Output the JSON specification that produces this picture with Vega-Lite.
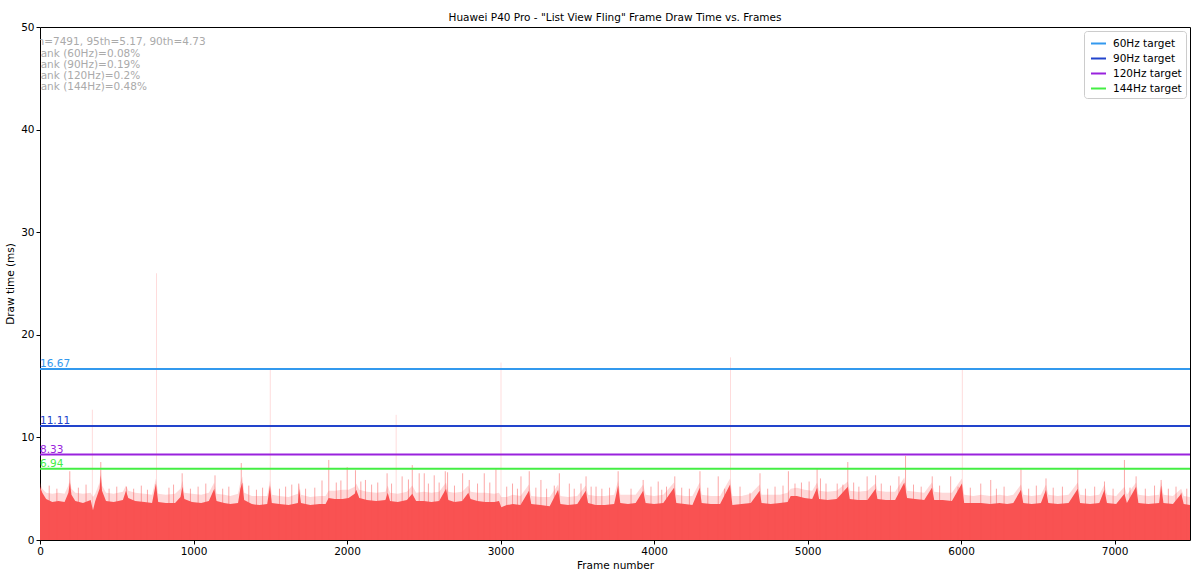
{
  "$schema": "https://vega.github.io/schema/vega-lite/v6.json",
  "autosize": {"type": "none"},
  "width": 1150,
  "height": 513,
  "padding": {"left": 40, "top": 27, "right": 10, "bottom": 37},
  "background": "white",
  "title": {"text": "Huawei P40 Pro - \"List View Fling\" Frame Draw Time vs. Frames", "fontSize": 10.5, "fontWeight": "normal", "font": "DejaVu Sans", "color": "black", "offset": -1},
  "config": {
    "font": "DejaVu Sans",
    "view": {"stroke": "black", "strokeWidth": 1},
    "axis": {"domain": false, "grid": false, "tickColor": "black", "tickSize": 4, "labelFontSize": 10.5, "labelColor": "black", "labelFont": "DejaVu Sans", "titleFont": "DejaVu Sans", "titleFontSize": 10.5, "titleFontWeight": "normal", "titleColor": "black", "labelPadding": 2, "labelFlush": false}
  },
  "datasets": {
    "frames": [
      {"frame": 0, "ms": 5.2, "upper": 5.6}, {"frame": 15, "ms": 4.6, "upper": 5.0}, {"frame": 40, "ms": 4.0, "upper": 4.6}, {"frame": 80, "ms": 3.7, "upper": 4.5}, {"frame": 120, "ms": 3.8, "upper": 4.6}, {"frame": 160, "ms": 3.7, "upper": 4.5}, {"frame": 185, "ms": 4.6, "upper": 5.3}, {"frame": 195, "ms": 5.6, "upper": 6.0}, {"frame": 205, "ms": 4.4, "upper": 5.0}, {"frame": 230, "ms": 3.8, "upper": 4.6}, {"frame": 280, "ms": 3.6, "upper": 4.5}, {"frame": 330, "ms": 3.9, "upper": 4.6}, {"frame": 345, "ms": 2.9, "upper": 4.2}, {"frame": 360, "ms": 3.8, "upper": 4.5}, {"frame": 388, "ms": 5.0, "upper": 5.6}, {"frame": 396, "ms": 6.3, "upper": 6.8}, {"frame": 404, "ms": 4.8, "upper": 5.3}, {"frame": 430, "ms": 3.8, "upper": 4.6}, {"frame": 480, "ms": 3.7, "upper": 4.5}, {"frame": 540, "ms": 3.9, "upper": 4.7}, {"frame": 560, "ms": 4.8, "upper": 5.3}, {"frame": 575, "ms": 4.1, "upper": 4.8}, {"frame": 620, "ms": 3.8, "upper": 4.6}, {"frame": 680, "ms": 3.7, "upper": 4.5}, {"frame": 730, "ms": 3.6, "upper": 4.4}, {"frame": 755, "ms": 5.5, "upper": 6.0}, {"frame": 770, "ms": 3.7, "upper": 4.5}, {"frame": 820, "ms": 3.6, "upper": 4.4}, {"frame": 880, "ms": 3.6, "upper": 4.5}, {"frame": 915, "ms": 4.2, "upper": 5.0}, {"frame": 928, "ms": 5.2, "upper": 5.8}, {"frame": 940, "ms": 4.0, "upper": 4.6}, {"frame": 990, "ms": 3.7, "upper": 4.5}, {"frame": 1050, "ms": 3.6, "upper": 4.4}, {"frame": 1100, "ms": 3.8, "upper": 4.6}, {"frame": 1135, "ms": 5.0, "upper": 5.6}, {"frame": 1150, "ms": 3.8, "upper": 4.5}, {"frame": 1200, "ms": 3.6, "upper": 4.4},
      {"frame": 1240, "ms": 3.5, "upper": 4.3}, {"frame": 1290, "ms": 3.6, "upper": 4.5}, {"frame": 1305, "ms": 5.0, "upper": 5.6}, {"frame": 1318, "ms": 5.6, "upper": 6.2}, {"frame": 1330, "ms": 3.9, "upper": 4.6}, {"frame": 1380, "ms": 3.5, "upper": 4.3}, {"frame": 1430, "ms": 3.4, "upper": 4.3}, {"frame": 1480, "ms": 3.5, "upper": 4.3}, {"frame": 1498, "ms": 5.3, "upper": 5.8}, {"frame": 1510, "ms": 3.6, "upper": 4.4}, {"frame": 1560, "ms": 3.5, "upper": 4.3}, {"frame": 1620, "ms": 3.4, "upper": 4.2}, {"frame": 1680, "ms": 3.6, "upper": 4.5}, {"frame": 1688, "ms": 5.0, "upper": 5.5}, {"frame": 1700, "ms": 3.6, "upper": 4.4}, {"frame": 1760, "ms": 3.4, "upper": 4.2}, {"frame": 1820, "ms": 3.5, "upper": 4.3}, {"frame": 1860, "ms": 3.5, "upper": 4.3}, {"frame": 1880, "ms": 4.1, "upper": 4.8}, {"frame": 1920, "ms": 4.0, "upper": 4.8}, {"frame": 1970, "ms": 4.0, "upper": 4.9}, {"frame": 2010, "ms": 4.1, "upper": 4.9}, {"frame": 2050, "ms": 4.5, "upper": 5.2}, {"frame": 2060, "ms": 4.9, "upper": 5.5}, {"frame": 2080, "ms": 4.1, "upper": 4.9}, {"frame": 2130, "ms": 3.9, "upper": 4.7}, {"frame": 2190, "ms": 3.8, "upper": 4.6}, {"frame": 2250, "ms": 3.9, "upper": 4.7}, {"frame": 2265, "ms": 4.6, "upper": 5.3}, {"frame": 2280, "ms": 3.8, "upper": 4.6}, {"frame": 2330, "ms": 3.7, "upper": 4.5}, {"frame": 2390, "ms": 3.9, "upper": 4.7}, {"frame": 2425, "ms": 4.5, "upper": 5.3}, {"frame": 2450, "ms": 3.8, "upper": 4.6}, {"frame": 2500, "ms": 3.8, "upper": 4.7},
      {"frame": 2550, "ms": 3.7, "upper": 4.6}, {"frame": 2600, "ms": 3.8, "upper": 4.7}, {"frame": 2645, "ms": 5.0, "upper": 5.6}, {"frame": 2660, "ms": 3.9, "upper": 4.7}, {"frame": 2700, "ms": 3.7, "upper": 4.6}, {"frame": 2750, "ms": 3.8, "upper": 4.7}, {"frame": 2790, "ms": 4.6, "upper": 5.3}, {"frame": 2805, "ms": 4.0, "upper": 4.7}, {"frame": 2850, "ms": 3.8, "upper": 4.6}, {"frame": 2900, "ms": 3.7, "upper": 4.6}, {"frame": 2960, "ms": 3.7, "upper": 4.5}, {"frame": 2990, "ms": 3.8, "upper": 4.6}, {"frame": 3005, "ms": 3.2, "upper": 4.2}, {"frame": 3040, "ms": 3.4, "upper": 4.2}, {"frame": 3080, "ms": 3.5, "upper": 4.4}, {"frame": 3130, "ms": 3.4, "upper": 4.3}, {"frame": 3185, "ms": 4.8, "upper": 5.4}, {"frame": 3200, "ms": 3.5, "upper": 4.3}, {"frame": 3260, "ms": 3.4, "upper": 4.2}, {"frame": 3320, "ms": 3.3, "upper": 4.2}, {"frame": 3375, "ms": 4.9, "upper": 5.4}, {"frame": 3390, "ms": 3.5, "upper": 4.3}, {"frame": 3440, "ms": 3.4, "upper": 4.2}, {"frame": 3500, "ms": 3.5, "upper": 4.3}, {"frame": 3555, "ms": 4.8, "upper": 5.3}, {"frame": 3570, "ms": 3.6, "upper": 4.4}, {"frame": 3620, "ms": 3.4, "upper": 4.3}, {"frame": 3680, "ms": 3.4, "upper": 4.3}, {"frame": 3740, "ms": 3.5, "upper": 4.4},
      {"frame": 3766, "ms": 5.3, "upper": 5.8}, {"frame": 3780, "ms": 3.6, "upper": 4.4}, {"frame": 3830, "ms": 3.5, "upper": 4.4}, {"frame": 3880, "ms": 3.6, "upper": 4.4}, {"frame": 3929, "ms": 4.8, "upper": 5.4}, {"frame": 3945, "ms": 3.6, "upper": 4.4}, {"frame": 4000, "ms": 3.5, "upper": 4.3}, {"frame": 4060, "ms": 3.6, "upper": 4.4}, {"frame": 4130, "ms": 5.1, "upper": 5.6}, {"frame": 4145, "ms": 3.6, "upper": 4.4}, {"frame": 4200, "ms": 3.5, "upper": 4.3}, {"frame": 4250, "ms": 3.4, "upper": 4.3}, {"frame": 4297, "ms": 5.1, "upper": 5.6}, {"frame": 4310, "ms": 3.6, "upper": 4.4}, {"frame": 4370, "ms": 3.5, "upper": 4.3}, {"frame": 4430, "ms": 3.5, "upper": 4.3}, {"frame": 4495, "ms": 5.4, "upper": 6.0}, {"frame": 4510, "ms": 3.4, "upper": 4.3}, {"frame": 4570, "ms": 3.5, "upper": 4.3}, {"frame": 4630, "ms": 3.6, "upper": 4.5}, {"frame": 4688, "ms": 4.8, "upper": 5.4}, {"frame": 4700, "ms": 3.6, "upper": 4.4}, {"frame": 4760, "ms": 3.5, "upper": 4.4}, {"frame": 4820, "ms": 3.6, "upper": 4.4}, {"frame": 4870, "ms": 3.7, "upper": 4.6}, {"frame": 4890, "ms": 4.3, "upper": 5.0}, {"frame": 4930, "ms": 4.3, "upper": 5.1}, {"frame": 4980, "ms": 4.1, "upper": 4.9},
      {"frame": 5030, "ms": 4.0, "upper": 4.8}, {"frame": 5062, "ms": 5.1, "upper": 5.6}, {"frame": 5075, "ms": 4.0, "upper": 4.8}, {"frame": 5130, "ms": 3.9, "upper": 4.7}, {"frame": 5190, "ms": 4.0, "upper": 4.8}, {"frame": 5262, "ms": 5.2, "upper": 5.7}, {"frame": 5275, "ms": 4.0, "upper": 4.8}, {"frame": 5330, "ms": 3.9, "upper": 4.7}, {"frame": 5390, "ms": 3.9, "upper": 4.8}, {"frame": 5443, "ms": 5.0, "upper": 5.5}, {"frame": 5455, "ms": 4.0, "upper": 4.8}, {"frame": 5510, "ms": 3.9, "upper": 4.7}, {"frame": 5570, "ms": 3.9, "upper": 4.7}, {"frame": 5630, "ms": 5.6, "upper": 6.1}, {"frame": 5648, "ms": 4.1, "upper": 4.8}, {"frame": 5700, "ms": 4.0, "upper": 4.7}, {"frame": 5760, "ms": 3.9, "upper": 4.6}, {"frame": 5810, "ms": 5.1, "upper": 5.6}, {"frame": 5825, "ms": 3.9, "upper": 4.7}, {"frame": 5880, "ms": 3.9, "upper": 4.6}, {"frame": 5940, "ms": 3.8, "upper": 4.6}, {"frame": 6005, "ms": 5.5, "upper": 6.0}, {"frame": 6020, "ms": 3.6, "upper": 4.4}, {"frame": 6080, "ms": 3.6, "upper": 4.3}, {"frame": 6130, "ms": 3.6, "upper": 4.4}, {"frame": 6190, "ms": 3.5, "upper": 4.3}, {"frame": 6250, "ms": 3.6, "upper": 4.4},
      {"frame": 6300, "ms": 3.5, "upper": 4.3}, {"frame": 6340, "ms": 3.6, "upper": 4.4}, {"frame": 6390, "ms": 4.9, "upper": 5.4}, {"frame": 6405, "ms": 3.6, "upper": 4.4}, {"frame": 6460, "ms": 3.5, "upper": 4.3}, {"frame": 6520, "ms": 3.6, "upper": 4.4}, {"frame": 6553, "ms": 4.9, "upper": 5.4}, {"frame": 6568, "ms": 3.6, "upper": 4.4}, {"frame": 6630, "ms": 3.5, "upper": 4.3}, {"frame": 6700, "ms": 3.6, "upper": 4.4}, {"frame": 6760, "ms": 5.0, "upper": 5.6}, {"frame": 6775, "ms": 3.6, "upper": 4.4}, {"frame": 6840, "ms": 3.5, "upper": 4.3}, {"frame": 6900, "ms": 3.6, "upper": 4.4}, {"frame": 6934, "ms": 4.9, "upper": 5.4}, {"frame": 6950, "ms": 3.6, "upper": 4.4}, {"frame": 7010, "ms": 3.5, "upper": 4.3}, {"frame": 7064, "ms": 4.5, "upper": 5.2}, {"frame": 7080, "ms": 3.6, "upper": 4.4}, {"frame": 7140, "ms": 5.2, "upper": 5.6}, {"frame": 7155, "ms": 3.6, "upper": 4.4}, {"frame": 7220, "ms": 3.5, "upper": 4.3}, {"frame": 7290, "ms": 3.6, "upper": 4.4}, {"frame": 7303, "ms": 5.3, "upper": 5.7}, {"frame": 7318, "ms": 3.6, "upper": 4.4}, {"frame": 7380, "ms": 3.5, "upper": 4.3}, {"frame": 7434, "ms": 4.5, "upper": 5.0}, {"frame": 7450, "ms": 3.5, "upper": 4.3}, {"frame": 7491, "ms": 3.4, "upper": 4.2}
    ],
    "peaks": [
      {"frame": 194, "ms": 6.7}, {"frame": 341, "ms": 12.7}, {"frame": 396, "ms": 7.6}, {"frame": 563, "ms": 5.2}, {"frame": 759, "ms": 26.0}, {"frame": 926, "ms": 6.5}, {"frame": 1140, "ms": 6.3}, {"frame": 1311, "ms": 7.5}, {"frame": 1500, "ms": 16.7}, {"frame": 1685, "ms": 5.5}, {"frame": 1837, "ms": 5.8}, {"frame": 1881, "ms": 7.8}, {"frame": 2001, "ms": 7.1}, {"frame": 2055, "ms": 6.8}, {"frame": 2120, "ms": 5.85}, {"frame": 2261, "ms": 6.5}, {"frame": 2320, "ms": 12.2}, {"frame": 2359, "ms": 6.2}, {"frame": 2425, "ms": 7.3}, {"frame": 2470, "ms": 6.5}, {"frame": 2503, "ms": 6.5}, {"frame": 2568, "ms": 6.3}, {"frame": 2640, "ms": 6.7}, {"frame": 2655, "ms": 6.6}, {"frame": 2753, "ms": 6.5}, {"frame": 2796, "ms": 5.85}, {"frame": 2894, "ms": 6.5}, {"frame": 2970, "ms": 6.9}, {"frame": 3003, "ms": 17.3}, {"frame": 3078, "ms": 5.5}, {"frame": 3133, "ms": 6.2}, {"frame": 3187, "ms": 6.7}, {"frame": 3263, "ms": 5.85}, {"frame": 3383, "ms": 6.5}, {"frame": 3448, "ms": 5.5}, {"frame": 3524, "ms": 5.5}, {"frame": 3557, "ms": 6.2}, {"frame": 3622, "ms": 5.2}, {"frame": 3766, "ms": 6.7}, {"frame": 3929, "ms": 5.85}, {"frame": 4027, "ms": 5.7}, {"frame": 4081, "ms": 5.2}, {"frame": 4135, "ms": 6.2}, {"frame": 4299, "ms": 6.7}, {"frame": 4418, "ms": 6.2}, {"frame": 4498, "ms": 17.8}, {"frame": 4625, "ms": 4.6}, {"frame": 4690, "ms": 6.5}, {"frame": 4788, "ms": 5.2}, {"frame": 4875, "ms": 6.7}, {"frame": 4918, "ms": 5.5}, {"frame": 5062, "ms": 7.0}, {"frame": 5084, "ms": 6.0}, {"frame": 5193, "ms": 5.5}, {"frame": 5262, "ms": 7.6}, {"frame": 5334, "ms": 5.2}, {"frame": 5388, "ms": 6.2}, {"frame": 5443, "ms": 6.3}, {"frame": 5595, "ms": 6.2}, {"frame": 5638, "ms": 8.2}, {"frame": 5812, "ms": 6.2}, {"frame": 5932, "ms": 6.2}, {"frame": 6008, "ms": 16.6}, {"frame": 6128, "ms": 5.5}, {"frame": 6193, "ms": 5.85}, {"frame": 6390, "ms": 7.0}, {"frame": 6553, "ms": 6.0}, {"frame": 6760, "ms": 7.0}, {"frame": 6934, "ms": 5.7}, {"frame": 7064, "ms": 7.8}, {"frame": 7140, "ms": 6.2}, {"frame": 7303, "ms": 5.85}, {"frame": 7434, "ms": 4.6},
      {"frame": 60, "ms": 5.3}, {"frame": 110, "ms": 5.0}, {"frame": 250, "ms": 5.1}, {"frame": 300, "ms": 5.4}, {"frame": 450, "ms": 5.0}, {"frame": 500, "ms": 5.2}, {"frame": 610, "ms": 5.0}, {"frame": 660, "ms": 5.3}, {"frame": 700, "ms": 4.9}, {"frame": 840, "ms": 5.1}, {"frame": 870, "ms": 5.4}, {"frame": 980, "ms": 5.0}, {"frame": 1030, "ms": 5.2}, {"frame": 1080, "ms": 5.5}, {"frame": 1190, "ms": 5.0}, {"frame": 1230, "ms": 5.2}, {"frame": 1360, "ms": 5.3}, {"frame": 1410, "ms": 4.9}, {"frame": 1450, "ms": 5.1}, {"frame": 1560, "ms": 5.0}, {"frame": 1600, "ms": 5.2}, {"frame": 1640, "ms": 5.4}, {"frame": 1730, "ms": 5.0}, {"frame": 1790, "ms": 5.1}, {"frame": 1930, "ms": 5.6}, {"frame": 1960, "ms": 5.8}, {"frame": 2090, "ms": 5.7}, {"frame": 2160, "ms": 5.4}, {"frame": 2200, "ms": 5.6}, {"frame": 2290, "ms": 5.5}, {"frame": 2400, "ms": 5.9}, {"frame": 2530, "ms": 5.5}, {"frame": 2600, "ms": 5.6}, {"frame": 2700, "ms": 5.3}, {"frame": 2850, "ms": 5.5}, {"frame": 2930, "ms": 5.6}, {"frame": 3040, "ms": 5.2}, {"frame": 3110, "ms": 5.0}, {"frame": 3230, "ms": 5.1}, {"frame": 3300, "ms": 5.0}, {"frame": 3350, "ms": 5.3}, {"frame": 3480, "ms": 5.0}, {"frame": 3590, "ms": 5.2}, {"frame": 3660, "ms": 5.0}, {"frame": 3710, "ms": 5.1}, {"frame": 3850, "ms": 5.0}, {"frame": 3980, "ms": 5.2}, {"frame": 4050, "ms": 4.9}, {"frame": 4180, "ms": 5.1}, {"frame": 4230, "ms": 5.0}, {"frame": 4350, "ms": 5.1}, {"frame": 4460, "ms": 5.0}, {"frame": 4560, "ms": 5.2}, {"frame": 4740, "ms": 5.0}, {"frame": 4840, "ms": 5.3}, {"frame": 4960, "ms": 5.6}, {"frame": 5010, "ms": 5.7}, {"frame": 5120, "ms": 5.5}, {"frame": 5230, "ms": 5.4}, {"frame": 5300, "ms": 5.6}, {"frame": 5480, "ms": 5.5}, {"frame": 5540, "ms": 5.3}, {"frame": 5690, "ms": 5.4}, {"frame": 5740, "ms": 5.2}, {"frame": 5860, "ms": 5.3}, {"frame": 5980, "ms": 5.2}, {"frame": 6060, "ms": 5.1}, {"frame": 6230, "ms": 5.0}, {"frame": 6280, "ms": 5.2}, {"frame": 6440, "ms": 5.0}, {"frame": 6490, "ms": 5.3}, {"frame": 6600, "ms": 5.1}, {"frame": 6660, "ms": 5.2}, {"frame": 6810, "ms": 5.0}, {"frame": 6870, "ms": 5.2}, {"frame": 6990, "ms": 5.0}, {"frame": 7100, "ms": 5.1}, {"frame": 7200, "ms": 5.0}, {"frame": 7260, "ms": 5.3}, {"frame": 7350, "ms": 5.0}, {"frame": 7400, "ms": 5.2}, {"frame": 7470, "ms": 5.0}
    ],
    "targets": [
      {"target": "60Hz target", "ms": 16.67, "label": "16.67"},
      {"target": "90Hz target", "ms": 11.11, "label": "11.11"},
      {"target": "120Hz target", "ms": 8.33, "label": "8.33"},
      {"target": "144Hz target", "ms": 6.94, "label": "6.94"}
    ]
  },
  "layer": [
    {
      "data": {"name": "frames"},
      "mark": {"type": "area", "color": "#f95252", "opacity": 0.22, "interpolate": "linear", "clip": true},
      "encoding": {
        "x": {"field": "frame", "type": "quantitative", "scale": {"domain": [0, 7491], "nice": false, "zero": false}, "axis": {"values": [0, 1000, 2000, 3000, 4000, 5000, 6000, 7000], "title": "Frame number", "titlePadding": 4, "format": "d"}},
        "y": {"field": "upper", "type": "quantitative", "scale": {"domain": [0, 50], "nice": false}, "axis": {"values": [0, 10, 20, 30, 40, 50], "title": "Draw time (ms)", "titlePadding": 5}}
      }
    },
    {
      "data": {"name": "frames"},
      "mark": {"type": "area", "color": "#f95252", "interpolate": "linear", "clip": true},
      "encoding": {
        "x": {"field": "frame", "type": "quantitative"},
        "y": {"field": "ms", "type": "quantitative"}
      }
    },
    {
      "data": {"name": "peaks"},
      "mark": {"type": "rule", "color": "#f95252", "strokeWidth": 1, "clip": true},
      "encoding": {
        "x": {"field": "frame", "type": "quantitative"},
        "y": {"field": "ms", "type": "quantitative"},
        "y2": {"datum": 0},
        "opacity": {"condition": {"test": "datum.ms > 9", "value": 0.2}, "value": 0.5}
      }
    },
    {
      "data": {"name": "targets"},
      "mark": {"type": "rule", "strokeWidth": 2},
      "encoding": {
        "y": {"field": "ms", "type": "quantitative"},
        "color": {
          "field": "target", "type": "nominal",
          "scale": {"domain": ["60Hz target", "90Hz target", "120Hz target", "144Hz target"], "range": ["#3399ee", "#2244cc", "#9922dd", "#44ee44"]},
          "legend": {"title": null, "orient": "top-right", "offset": 4, "symbolType": "stroke", "symbolSize": 225, "symbolStrokeWidth": 2, "labelFontSize": 10.5, "labelFont": "DejaVu Sans", "labelColor": "black", "rowPadding": 1, "padding": 4, "strokeColor": "#cccccc", "fillColor": "white", "cornerRadius": 3, "symbolOffset": 2, "labelOffset": 6}
        }
      }
    },
    {
      "data": {"name": "targets"},
      "mark": {"type": "text", "align": "left", "baseline": "bottom", "fontSize": 10.5, "font": "DejaVu Sans", "dy": 0},
      "encoding": {
        "x": {"datum": 0},
        "y": {"field": "ms", "type": "quantitative"},
        "text": {"field": "label"},
        "color": {"field": "target", "type": "nominal", "legend": null}
      }
    },
    {
      "data": {"values": [{"note": ["n=7491, 95th=5.17, 90th=4.73", "Jank (60Hz)=0.08%", "Jank (90Hz)=0.19%", "Jank (120Hz)=0.2%", "Jank (144Hz)=0.48%"]}]},
      "mark": {"type": "text", "align": "left", "baseline": "top", "fontSize": 10.5, "font": "DejaVu Sans", "color": "#aaaaaa", "lineHeight": 11.3, "clip": true},
      "encoding": {
        "x": {"datum": -16},
        "y": {"datum": 49.0},
        "text": {"field": "note"}
      }
    }
  ]
}
